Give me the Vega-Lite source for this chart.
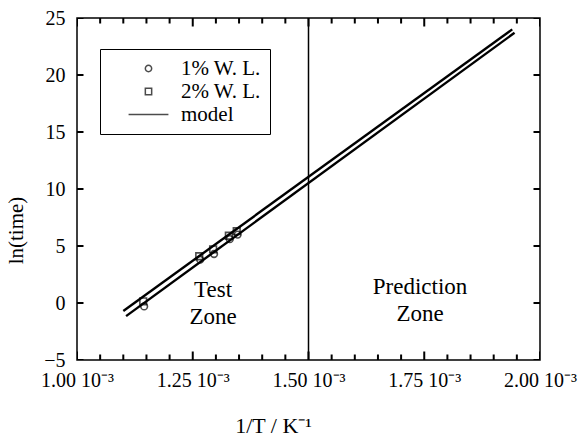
{
  "$schema": "https://vega.github.io/schema/vega-lite/v6.json",
  "width": 463,
  "height": 342,
  "autosize": {"type": "none"},
  "padding": {"left": 77, "top": 18, "right": 41, "bottom": 78},
  "background": "white",
  "config": {
    "font": "Liberation Serif",
    "view": {"stroke": "black", "strokeWidth": 1.5},
    "axis": {
      "domain": false,
      "grid": false,
      "ticks": false,
      "labelColor": "black",
      "labelFont": "Liberation Serif",
      "labelFontSize": 20,
      "titleColor": "black",
      "titleFont": "Liberation Serif",
      "titleFontWeight": "normal"
    }
  },
  "datasets": {
    "model": [
      {"line": "A", "invT": 0.0011, "lnt": -0.7},
      {"line": "A", "invT": 0.00194, "lnt": 24.0},
      {"line": "B", "invT": 0.001106, "lnt": -1.15},
      {"line": "B", "invT": 0.001945, "lnt": 23.7}
    ],
    "divider": [{"invT": 0.0015}],
    "zones": [
      {"invT": 0.001294, "lnt": 1.15, "label": "Test\nZone"},
      {"invT": 0.001741, "lnt": 1.4, "label": "Prediction\nZone"}
    ],
    "xticks": [
      {"invT": 0.001, "lnt": -5, "kind": "major"}, {"invT": 0.00105, "lnt": -5, "kind": "minor"},
      {"invT": 0.0011, "lnt": -5, "kind": "minor"}, {"invT": 0.00115, "lnt": -5, "kind": "minor"},
      {"invT": 0.0012, "lnt": -5, "kind": "minor"}, {"invT": 0.00125, "lnt": -5, "kind": "major"},
      {"invT": 0.0013, "lnt": -5, "kind": "minor"}, {"invT": 0.00135, "lnt": -5, "kind": "minor"},
      {"invT": 0.0014, "lnt": -5, "kind": "minor"}, {"invT": 0.00145, "lnt": -5, "kind": "minor"},
      {"invT": 0.0015, "lnt": -5, "kind": "major"}, {"invT": 0.00155, "lnt": -5, "kind": "minor"},
      {"invT": 0.0016, "lnt": -5, "kind": "minor"}, {"invT": 0.00165, "lnt": -5, "kind": "minor"},
      {"invT": 0.0017, "lnt": -5, "kind": "minor"}, {"invT": 0.00175, "lnt": -5, "kind": "major"},
      {"invT": 0.0018, "lnt": -5, "kind": "minor"}, {"invT": 0.00185, "lnt": -5, "kind": "minor"},
      {"invT": 0.0019, "lnt": -5, "kind": "minor"}, {"invT": 0.00195, "lnt": -5, "kind": "minor"},
      {"invT": 0.002, "lnt": -5, "kind": "major"},
      {"invT": 0.001, "lnt": 25, "kind": "major"}, {"invT": 0.00105, "lnt": 25, "kind": "minor"},
      {"invT": 0.0011, "lnt": 25, "kind": "minor"}, {"invT": 0.00115, "lnt": 25, "kind": "minor"},
      {"invT": 0.0012, "lnt": 25, "kind": "minor"}, {"invT": 0.00125, "lnt": 25, "kind": "major"},
      {"invT": 0.0013, "lnt": 25, "kind": "minor"}, {"invT": 0.00135, "lnt": 25, "kind": "minor"},
      {"invT": 0.0014, "lnt": 25, "kind": "minor"}, {"invT": 0.00145, "lnt": 25, "kind": "minor"},
      {"invT": 0.0015, "lnt": 25, "kind": "major"}, {"invT": 0.00155, "lnt": 25, "kind": "minor"},
      {"invT": 0.0016, "lnt": 25, "kind": "minor"}, {"invT": 0.00165, "lnt": 25, "kind": "minor"},
      {"invT": 0.0017, "lnt": 25, "kind": "minor"}, {"invT": 0.00175, "lnt": 25, "kind": "major"},
      {"invT": 0.0018, "lnt": 25, "kind": "minor"}, {"invT": 0.00185, "lnt": 25, "kind": "minor"},
      {"invT": 0.0019, "lnt": 25, "kind": "minor"}, {"invT": 0.00195, "lnt": 25, "kind": "minor"},
      {"invT": 0.002, "lnt": 25, "kind": "major"}
    ],
    "yticks": [
      {"invT": 0.001, "lnt": -5}, {"invT": 0.001, "lnt": 0}, {"invT": 0.001, "lnt": 5},
      {"invT": 0.001, "lnt": 10}, {"invT": 0.001, "lnt": 15}, {"invT": 0.001, "lnt": 20},
      {"invT": 0.001, "lnt": 25},
      {"invT": 0.002, "lnt": -5}, {"invT": 0.002, "lnt": 0}, {"invT": 0.002, "lnt": 5},
      {"invT": 0.002, "lnt": 10}, {"invT": 0.002, "lnt": 15}, {"invT": 0.002, "lnt": 20},
      {"invT": 0.002, "lnt": 25}
    ],
    "obs": [
      {"series": "1% W. L.", "invT": 0.001145, "lnt": -0.3},
      {"series": "1% W. L.", "invT": 0.001266, "lnt": 3.8},
      {"series": "1% W. L.", "invT": 0.001296, "lnt": 4.3},
      {"series": "1% W. L.", "invT": 0.00133, "lnt": 5.6},
      {"series": "1% W. L.", "invT": 0.001347, "lnt": 6.0},
      {"series": "2% W. L.", "invT": 0.001143, "lnt": 0.15},
      {"series": "2% W. L.", "invT": 0.001264, "lnt": 4.1},
      {"series": "2% W. L.", "invT": 0.001294, "lnt": 4.7},
      {"series": "2% W. L.", "invT": 0.001328, "lnt": 5.9},
      {"series": "2% W. L.", "invT": 0.001345, "lnt": 6.3}
    ]
  },
  "layer": [
    {
      "encoding": {
        "x": {
          "field": "invT",
          "type": "quantitative",
          "scale": {"domain": [0.001, 0.002], "nice": false, "zero": false},
          "axis": {
            "orient": "bottom",
            "values": [0.001, 0.00125, 0.0015, 0.00175, 0.002],
            "labelExpr": "format(datum.value*1000, '.2f') + ' 10⁻³'",
            "labelPadding": 10,
            "labelFlush": false,
            "labelOverlap": false,
            "title": "1/T / K⁻¹",
            "titleFontSize": 22,
            "titleX": 196,
            "titleY": 72,
            "titleBaseline": "alphabetic",
            "titleAlign": "center"
          }
        },
        "y": {
          "field": "lnt",
          "type": "quantitative",
          "scale": {"domain": [-5, 25], "nice": false, "zero": false},
          "axis": {
            "orient": "left",
            "values": [-5, 0, 5, 10, 15, 20, 25],
            "labelPadding": 12,
            "title": "ln(time)",
            "titleFontSize": 21,
            "titleAngle": -90,
            "titleX": -61,
            "titleY": 212,
            "titleAlign": "center",
            "titleBaseline": "middle"
          }
        }
      },
      "layer": [
        {
          "data": {"name": "xticks"},
          "mark": {"type": "tick", "orient": "vertical", "clip": true, "color": "black", "thickness": 2, "opacity": 1},
          "encoding": {
            "size": {"field": "kind", "type": "nominal", "scale": {"domain": ["major", "minor"], "range": [17, 11]}, "legend": null}
          }
        },
        {
          "data": {"name": "yticks"},
          "mark": {"type": "tick", "orient": "horizontal", "clip": true, "color": "black", "thickness": 2, "opacity": 1, "size": 13},
          "encoding": {}
        },
        {
          "data": {"name": "model"},
          "mark": {"type": "line", "color": "black", "strokeWidth": 2.4},
          "encoding": {"detail": {"field": "line"}}
        },
        {
          "data": {"name": "divider"},
          "mark": {"type": "rule", "color": "black", "strokeWidth": 1.5},
          "encoding": {"y": null}
        },
        {
          "data": {"name": "zones"},
          "mark": {"type": "text", "font": "Liberation Serif", "fontSize": 23, "lineBreak": "\n", "lineHeight": 27, "baseline": "middle", "align": "center", "color": "black"},
          "encoding": {"text": {"field": "label"}}
        }
      ]
    },
    {
      "data": {"name": "obs"},
      "mark": {"type": "point", "filled": false, "color": "black", "strokeWidth": 1.6, "size": 45},
      "encoding": {
        "x": {
          "field": "invT",
          "type": "quantitative",
          "scale": {"domain": [0.001, 0.002], "nice": false, "zero": false},
          "axis": null
        },
        "y": {
          "field": "lnt",
          "type": "quantitative",
          "scale": {"domain": [-5, 25], "nice": false, "zero": false},
          "axis": null
        },
        "shape": {
          "field": "series",
          "type": "nominal",
          "scale": {"domain": ["1% W. L.", "2% W. L.", "model"], "range": ["circle", "square", "M-6.3,0H6.3"]},
          "legend": {
            "orient": "none",
            "legendX": 23,
            "legendY": 31,
            "title": null,
            "strokeColor": "black",
            "fillColor": "white",
            "padding": 9,
            "labelFont": "Liberation Serif",
            "labelFontSize": 21,
            "labelColor": "black",
            "symbolStrokeColor": "black",
            "symbolStrokeWidth": 1.5,
            "symbolFillColor": "transparent",
            "symbolSize": 40,
            "symbolOffset": 29,
            "labelOffset": 22,
            "rowPadding": 1,
            "encode": {
              "legend": {"update": {"strokeWidth": {"value": 2}}}
            }
          }
        }
      }
    }
  ],
  "resolve": {"scale": {"x": "independent", "y": "independent"}}
}
